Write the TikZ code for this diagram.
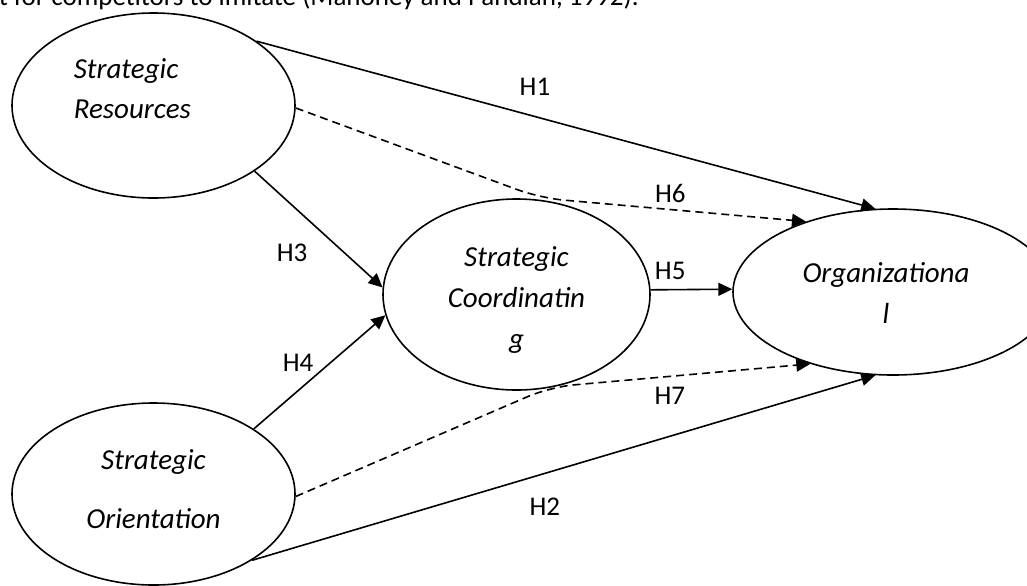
\documentclass[tikz,border=0pt]{standalone}
\usepackage{fontspec}
\setmainfont{Carlito}
\usetikzlibrary{arrows.meta,shapes.geometric}

\tikzset{
  construct/.style={ellipse, draw, inner sep=0pt},
  ctext/.style={font=\itshape\fontsize{14.5}{20.5}\selectfont, align=center, inner sep=0pt},
  hyp/.style={font=\fontsize{13.5}{16}\selectfont, inner sep=0pt},
  >={Triangle[length=7pt,width=6.5pt]}
}

\begin{document}
\begin{tikzpicture}[x=0.5pt, y=-0.5pt, line width=0.8pt]
  \useasboundingbox (0,0) rectangle (1027,585);

  \node[anchor=base west, inner sep=0pt, font=\fontsize{13.5}{16}\selectfont] (cite) at (-2,5)
    {t for competitors to imitate (Mahoney and Pandian, 1992).};

  % constructs
  \node[construct, minimum width=141.5pt, minimum height=92.5pt] (SR) at (153.5,105.5) {};
  \node[construct, minimum width=141.5pt, minimum height=91pt] (SO) at (153.5,494) {};
  \node[construct, minimum width=133.5pt, minimum height=95.5pt] (SC) at (516.5,294.5) {};
  \node[construct, minimum width=160pt, minimum height=83pt] (Org) at (893,292) {};

  \node[ctext, font=\itshape\fontsize{14.5}{20}\selectfont, align=left, anchor=west] (srtxt) at (73,89) {Strategic\\Resources};
  \node[ctext, font=\itshape\fontsize{14.5}{29.5}\selectfont] (sotxt) at (153.5,489) {Strategic\\Orientation};
  \node[ctext] (sctxt) at (516.5,299.5) {Strategic\\Coordinatin\\g};
  \node[ctext] (orgtxt) at (886,292.5) {Organizationa\\l};

  \path[->]
    (SR.32) edge node[hyp, pos=.45, yshift=15pt] (h1) {H1} (Org.102)
    (SR.-33) edge node[hyp, pos=.70, xshift=-26pt] (h3) {H3} (SC.177)
    (SO.33) edge node[hyp, pos=.58, xshift=-16pt] (h4) {H4} (SC.189)
    (SC.2) edge node[hyp, pos=.24, yshift=9.5pt] (h5) {H5} (Org.179)
    (SO.-34) edge node[hyp, pos=.47, yshift=-16.5pt] (h2) {H2} (Org.258);

  % dashed paths bend at the coordinating construct
  \coordinate (b6) at (540,198);
  \coordinate (b7) at (550,387);
  \draw[->, dash pattern=on 4pt off 2.5pt, rounded corners=12pt]
    (SR.-1) -- (b6) -- node[hyp, pos=.49, yshift=7.9pt] (h6) {H6} (Org.141);
  \draw[->, dash pattern=on 4pt off 2.5pt, rounded corners=12pt]
    (SO.-1) -- (b7) -- node[hyp, pos=.46, yshift=-9.6pt] (h7) {H7} (Org.221);
\end{tikzpicture}
\end{document}
